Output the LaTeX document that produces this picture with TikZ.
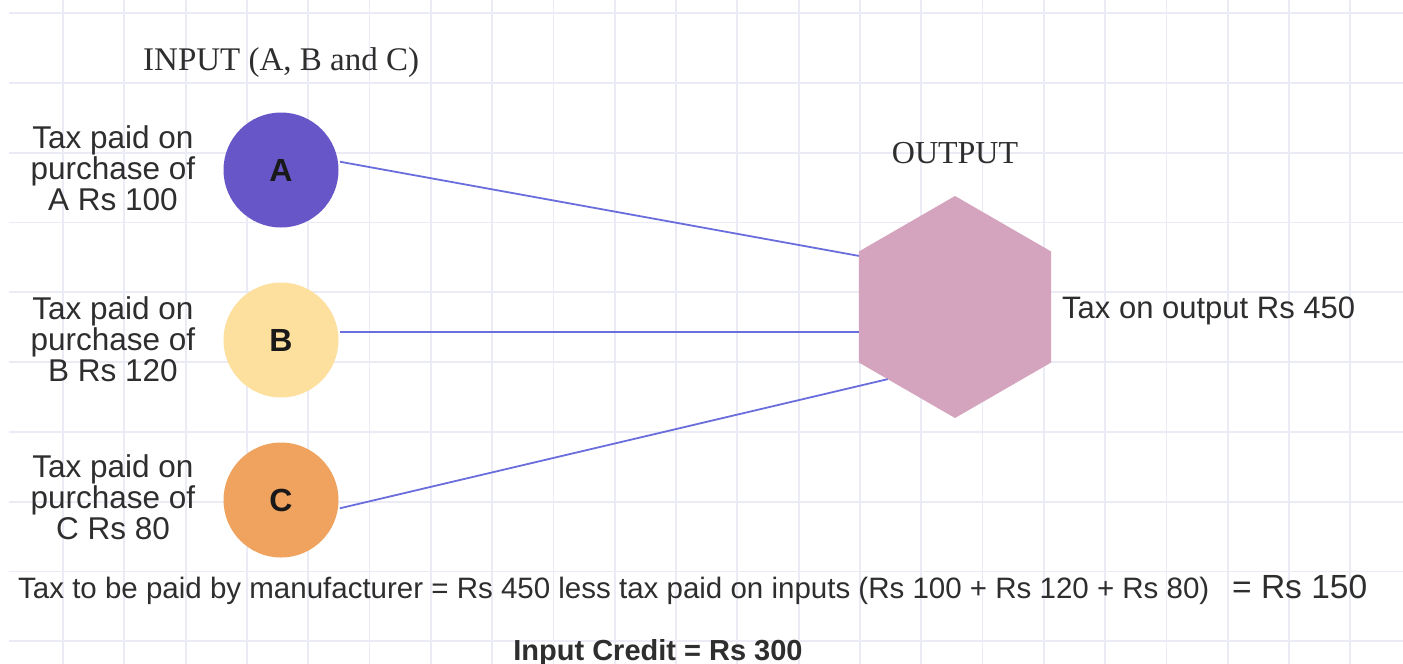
\documentclass[tikz,border=0pt]{standalone}
\usepackage{fontspec}
\setmainfont{Liberation Sans}
\newfontfamily\headserif{Liberation Serif}
\usetikzlibrary{shapes.geometric}

\definecolor{gridline}{HTML}{EBEBF6}
\definecolor{inka}{HTML}{6656C8}
\definecolor{inkb}{HTML}{FDE09E}
\definecolor{inkc}{HTML}{F0A35E}
\definecolor{hexfill}{HTML}{D4A3BD}
\definecolor{linkblue}{HTML}{6A6EDC}
\definecolor{textgray}{HTML}{2E2E2E}

\tikzset{
  gridrule/.style={draw=gridline, line width=1.8pt},
  inputdot/.style={circle, minimum size=115pt, inner sep=0pt, outer sep=2pt,
    text=black!90, font={\fontsize{32}{32}\selectfont\bfseries}},
  sidelabel/.style={align=center, inner sep=0pt, text=textgray,
    font={\fontsize{31.5}{31}\selectfont}},
  heading/.style={inner sep=0pt, text=textgray,
    font={\headserif\fontsize{33}{33}\selectfont}},
  plain/.style={inner sep=0pt, text=textgray},
  link/.style={draw=linkblue, line width=1.8pt},
}

\begin{document}
\begin{tikzpicture}[x=1pt, y=-1pt]
  \useasboundingbox (0,0) rectangle (1403,664);
  \fill[white] (0,0) rectangle (1403,664);

  % background grid
  \foreach \k in {1,...,22}
    \draw[gridrule] ({1.7+61.3*\k},0) -- ({1.7+61.3*\k},664);
  \foreach \k in {0,...,9}
    \draw[gridrule] (9,{13+69.8*\k}) -- (1403,{13+69.8*\k});

  % headings
  \node[heading, anchor=base west] (inhead) at (143,70) {INPUT (A, B and C)};
  \node[heading, anchor=base, font={\headserif\fontsize{32}{32}\selectfont}] (outhead) at (955,163) {OUTPUT};

  % inputs
  \node[inputdot, fill=inka] (A) at (281,170) {A};
  \node[inputdot, fill=inkb] (B) at (281,340) {B};
  \node[inputdot, fill=inkc] (C) at (281,500) {C};

  \node[sidelabel] (la) at (113,168) {Tax paid on\\purchase of\\A Rs 100};
  \node[sidelabel] (lb) at (113,339) {Tax paid on\\purchase of\\B Rs 120};
  \node[sidelabel] (lc) at (113,497) {Tax paid on\\purchase of\\C Rs 80};

  % output
  \node[regular polygon, regular polygon sides=6, shape border rotate=30,
        minimum size=222pt, inner sep=0pt, outer sep=0pt, fill=hexfill] (H) at (955,307) {};
  \node[plain, anchor=base west, font={\fontsize{31}{31}\selectfont}] (taxout) at (1062,318) {Tax on output Rs 450};

  % connectors
  \draw[link] (A.8) -- (H.152);
  \draw[link] (B.8) -- (B.8 -| H.west);
  \draw[link] (C.-8) -- (H.227);

  % summary
  \node[plain, anchor=base west, font={\fontsize{29.5}{29.5}\selectfont}] (calc) at (18,598)
    {Tax to be paid by manufacturer = Rs 450 less tax paid on inputs (Rs 100 + Rs 120 + Rs 80)};
  \node[plain, anchor=base west, font={\fontsize{33.5}{33.5}\selectfont}] (result) at (1232,598) {= Rs 150};
  \node[plain, anchor=base, font={\fontsize{29}{29}\selectfont\bfseries}] (credit) at (658,660) {Input Credit = Rs 300};
\end{tikzpicture}
\end{document}
